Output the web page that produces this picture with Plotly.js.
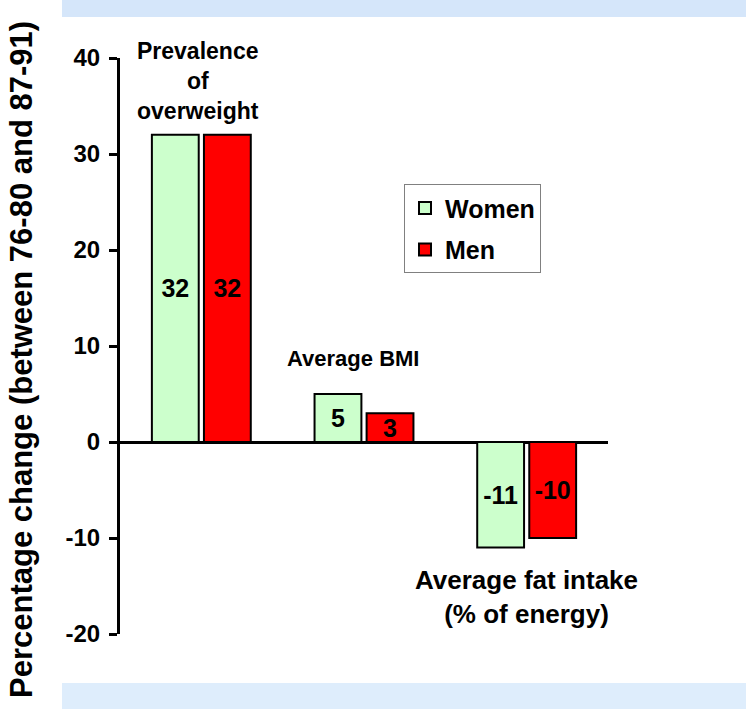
<!DOCTYPE html>
<html>
<head>
<meta charset="utf-8">
<script src="https://cdn.plot.ly/plotly-3.0.1.min.js"></script>
<style>
  html, body { margin: 0; padding: 0; background: #ffffff; }
  #chart { width: 746px; height: 709px; }
</style>
</head>
<body>
<div id="chart"></div>
<script>
// Percentage change between 1976-80 and 1987-91, by sex
const categories = ['Prevalence of overweight', 'Average BMI', 'Average fat intake'];
const womenValues = [32, 5, -11];
const menValues = [32, 3, -10];
const yTickValues = [-20, -10, 0, 10, 20, 30, 40];
const groupLabels = ['Prevalence<br>of<br>overweight', 'Average BMI', 'Average fat intake<br>(% of energy)'];
const groupLabelY = [37.6, 8.75, -16.15];
const groupLabelX = [-0.02, 0.93, 2.0];
const groupLabelSize = [23, 22, 26];
const yTitle = 'Percentage change (between 76-80 and 87-91)';

const FONT = 'Liberation Sans, Arial, sans-serif';
const xIdx = categories.map((_, i) => i);

const barLine = { color: '#000000', width: 2 };

function barTrace(name, group, values, color) {
  return {
    type: 'bar', name: name, legendgroup: group,
    x: xIdx, y: values,
    marker: { color: color, line: barLine },
    text: values.map(String),
    textposition: 'inside', insidetextanchor: 'middle', constraintext: 'none',
    textangle: 0,
    insidetextfont: { family: FONT, size: 25, weight: 'bold', color: '#000000' },
    hoverinfo: 'skip'
  };
}

const traces = [
  barTrace('Women', 'w', womenValues, '#ccffcc'),
  barTrace('Men', 'm', menValues, '#ff0000')
];

const annotations = groupLabels.map((t, i) => ({
  x: groupLabelX[i], y: groupLabelY[i], xref: 'x', yref: 'y',
  text: t, showarrow: false, xanchor: 'center', yanchor: 'middle',
  font: { family: FONT, size: groupLabelSize[i], weight: 'bold', color: '#000000' }
}));

// vertical axis title, placed in the left margin
annotations.push({
  x: -0.2008, y: 0.4757, xref: 'paper', yref: 'paper',
  text: yTitle, textangle: -90, showarrow: false,
  xanchor: 'center', yanchor: 'middle',
  font: { family: FONT, size: 31, weight: 'bold', color: '#000000' }
});

const layout = {
  width: 746, height: 709,
  margin: { l: 120, r: 138, t: 58, b: 75, pad: 0 },
  paper_bgcolor: '#ffffff', plot_bgcolor: '#ffffff',
  font: { family: FONT, size: 24, weight: 'bold', color: '#000000' },
  barmode: 'group', bargap: 0.36, bargroupgap: 0.1,
  showlegend: true,
  legend: {
    x: 0.582, y: 0.781, xanchor: 'left', yanchor: 'top',
    bgcolor: '#ffffff', bordercolor: '#808080', borderwidth: 1,
    font: { family: FONT, size: 25, weight: 'bold', color: '#000000' },
    traceorder: 'grouped', tracegroupgap: 6
  },
  xaxis: {
    range: [-0.5, 2.5], showticklabels: false, ticks: '',
    showgrid: false, zeroline: false, showline: false, fixedrange: true
  },
  yaxis: {
    range: [-20, 40], tickvals: yTickValues, ticktext: yTickValues.map(String),
    ticks: 'outside', ticklen: 8, tickwidth: 3, tickcolor: '#000000',
    showline: true, linewidth: 3, linecolor: '#000000',
    showgrid: false, zeroline: true, zerolinewidth: 3, zerolinecolor: '#000000',
    tickfont: { family: FONT, size: 24, weight: 'bold', color: '#000000' },
    ticklabelstandoff: 4,
    automargin: false
  },
  annotations: annotations,
  shapes: [
    { type: 'rect', xref: 'paper', yref: 'paper', layer: 'below',
      x0: -0.1189, x1: 1.2828, y0: 1.0712, y1: 1.1007,
      fillcolor: '#d5e6fa', line: { width: 0 } },
    { type: 'rect', xref: 'paper', yref: 'paper', layer: 'below',
      x0: -0.1189, x1: 1.2828, y0: -0.1302, y1: -0.0851,
      fillcolor: '#deedfc', line: { width: 0 } }
  ]
};

Plotly.newPlot('chart', traces, layout, { displayModeBar: false, staticPlot: true });
</script>
</body>
</html>
